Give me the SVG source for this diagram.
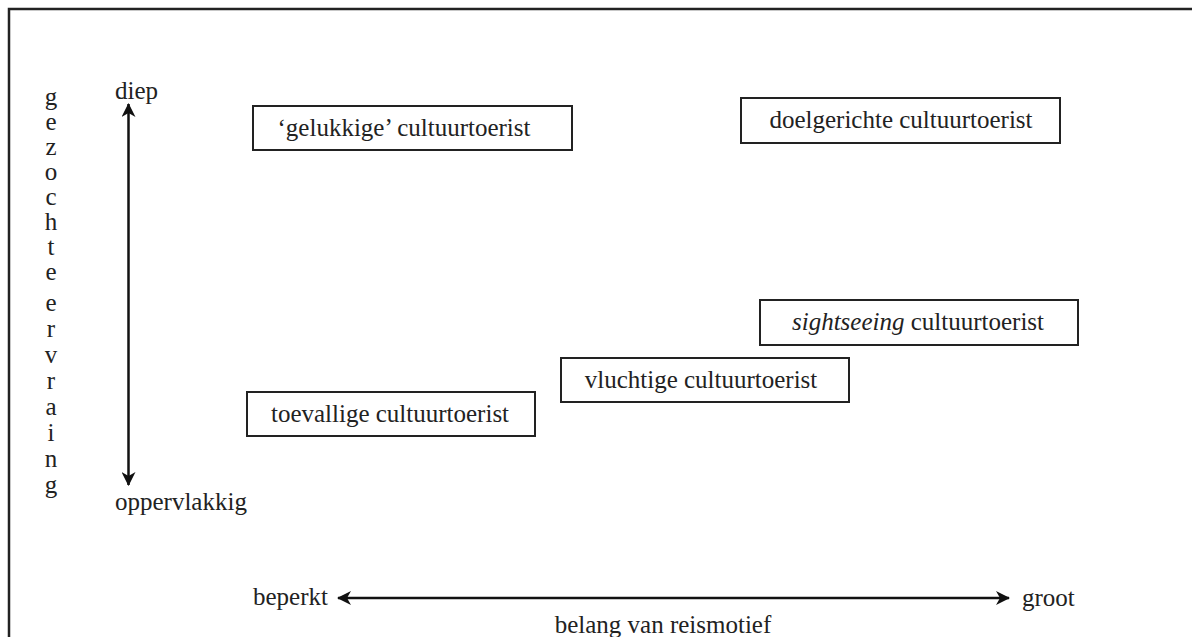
<svg xmlns="http://www.w3.org/2000/svg" width="1192" height="637" viewBox="0 0 1192 637" font-family="'Liberation Serif', 'Times New Roman', 'DejaVu Serif', serif">
  <style>
    text { font-family: 'Liberation Serif', 'Times New Roman', 'DejaVu Serif', serif; font-size: 25px; fill: #222; }
    .c { text-anchor: middle; }
    .box { fill: #fff; stroke: #222; stroke-width: 2; }
    .ax { stroke: #111; stroke-width: 2.5; fill: none; }
  </style>
  <defs>
    <marker id="ah" viewBox="0 0 14 14" refX="13" refY="7" markerWidth="14" markerHeight="14" markerUnits="userSpaceOnUse" orient="auto-start-reverse">
      <path d="M0,0 L14,7 L0,14 L4,7 Z" fill="#111"/>
    </marker>
  </defs>
  <rect x="0" y="0" width="1192" height="637" fill="#fff"/>
  <rect x="9" y="9" width="1200" height="650" fill="none" stroke="#222" stroke-width="2.5"/>

  <g id="y-axis-title">
    <text class="c" x="51" y="105">g</text>
    <text class="c" x="51" y="130">e</text>
    <text class="c" x="51" y="155">z</text>
    <text class="c" x="51" y="180">o</text>
    <text class="c" x="51" y="205">c</text>
    <text class="c" x="51" y="230">h</text>
    <text class="c" x="51" y="255">t</text>
    <text class="c" x="51" y="280">e</text>
    <text class="c" x="51" y="311">e</text>
    <text class="c" x="51" y="337">r</text>
    <text class="c" x="51" y="363">v</text>
    <text class="c" x="51" y="389">r</text>
    <text class="c" x="51" y="415">a</text>
    <text class="c" x="51" y="441">i</text>
    <text class="c" x="51" y="467">n</text>
    <text class="c" x="51" y="493">g</text>
  </g>

  <g id="connectors">
    <line class="ax" x1="128.5" y1="104" x2="128.5" y2="485" marker-start="url(#ah)" marker-end="url(#ah)"/>
    <line class="ax" x1="338" y1="598" x2="1009" y2="598" marker-start="url(#ah)" marker-end="url(#ah)"/>
  </g>

  <g id="axis-labels">
    <text x="115" y="99">diep</text>
    <text x="115" y="510">oppervlakkig</text>
    <text x="253" y="605">beperkt</text>
    <text x="1022" y="606">groot</text>
    <text class="c" x="663" y="633">belang van reismotief</text>
  </g>

  <g id="gelukkige">
    <rect class="box" x="253" y="106" width="319" height="44"/>
    <text class="c" x="404" y="136">‘gelukkige’ cultuurtoerist</text>
  </g>
  <g id="doelgerichte">
    <rect class="box" x="741" y="98" width="319" height="45"/>
    <text class="c" x="901" y="128">doelgerichte cultuurtoerist</text>
  </g>
  <g id="sightseeing">
    <rect class="box" x="760" y="300" width="318" height="45"/>
    <text class="c" x="918" y="330"><tspan font-style="italic">sightseeing</tspan> cultuurtoerist</text>
  </g>
  <g id="vluchtige">
    <rect class="box" x="561" y="358" width="288" height="44"/>
    <text class="c" x="701" y="388">vluchtige cultuurtoerist</text>
  </g>
  <g id="toevallige">
    <rect class="box" x="247" y="392" width="288" height="44"/>
    <text class="c" x="390" y="422">toevallige cultuurtoerist</text>
  </g>
</svg>
